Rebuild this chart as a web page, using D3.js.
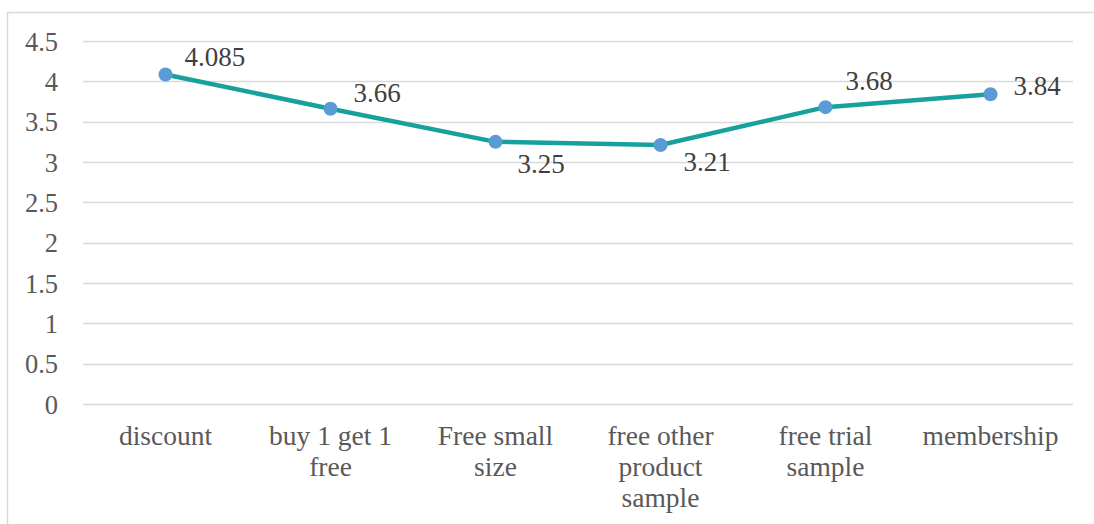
<!DOCTYPE html>
<html><head><meta charset="utf-8">
<script src="https://cdn.jsdelivr.net/npm/d3@7"></script>
<style>body{margin:0;background:#fff}svg{display:block}</style>
</head><body>
<svg id="c" width="1094" height="524"></svg>
<script>
const categories = [["discount"],["buy 1 get 1","free"],["Free small","size"],["free other","product","sample"],["free trial","sample"],["membership"]];
const values = [4.085, 3.66, 3.25, 3.21, 3.68, 3.84];
const valueLabels = ["4.085","3.66","3.25","3.21","3.68","3.84"];
const yTicks = [0,0.5,1,1.5,2,2.5,3,3.5,4,4.5];

// label placement offsets (layout only)
const labelDx = [19,23,22,23,20,23];
const labelDy = [-18,-16,22,16,-27,-9];

const svg = d3.select("#c");
const font = "'Liberation Serif','Times New Roman',serif";
svg.append("rect").attr("x",7.5).attr("y",12.5).attr("width",1100).attr("height",520)
  .attr("fill","#fff").attr("stroke","#d9d9d9").attr("stroke-width",1.5);

const x = d3.scaleBand().domain(d3.range(categories.length)).range([83,1073]);
const y = d3.scaleLinear().domain([0,4.5]).range([404,41]);

const grid = svg.append("g");
grid.selectAll("line").data(yTicks).join("line")
  .attr("x1",83).attr("x2",1073).attr("y1",d=>Math.round(y(d))+0.5).attr("y2",d=>Math.round(y(d))+0.5)
  .attr("stroke","#d9d9d9").attr("stroke-width",1.5);

const yAxis = d3.axisLeft(y).tickValues(yTicks).tickSize(0).tickPadding(0).tickFormat(d=>String(d));
const ya = svg.append("g").attr("transform","translate(58,0)").call(yAxis);
ya.select(".domain").remove();
ya.selectAll("text").attr("font-family",font).attr("font-size",26.5).attr("fill","#595959").attr("dy","0.35em");

const xa = svg.append("g");
categories.forEach((lines,i)=>{
  const t = xa.append("text").attr("x",x(i)+x.bandwidth()/2).attr("y",445)
    .attr("text-anchor","middle").attr("font-family",font).attr("font-size",27.5).attr("fill","#595959");
  lines.forEach((l,j)=>t.append("tspan").attr("x",x(i)+x.bandwidth()/2).attr("y",445+j*31).text(l));
});

const cx = i => x(i)+x.bandwidth()/2;
svg.append("path").datum(values)
  .attr("d",d3.line().x((d,i)=>cx(i)).y(d=>y(d)))
  .attr("fill","none").attr("stroke","#17a19c").attr("stroke-width",4.5).attr("stroke-linejoin","round");
svg.selectAll("circle.m").data(values).join("circle").attr("class","m")
  .attr("cx",(d,i)=>cx(i)).attr("cy",d=>y(d)).attr("r",7).attr("fill","#5b9bd5");

svg.selectAll("text.v").data(values).join("text").attr("class","v")
  .attr("x",(d,i)=>cx(i)+labelDx[i])
  .attr("y",(d,i)=>y(d)+labelDy[i])
  .attr("dy","0.35em")
  .attr("font-family",font).attr("font-size",27).attr("fill","#404040")
  .text((d,i)=>valueLabels[i]);
</script>
</body></html>
